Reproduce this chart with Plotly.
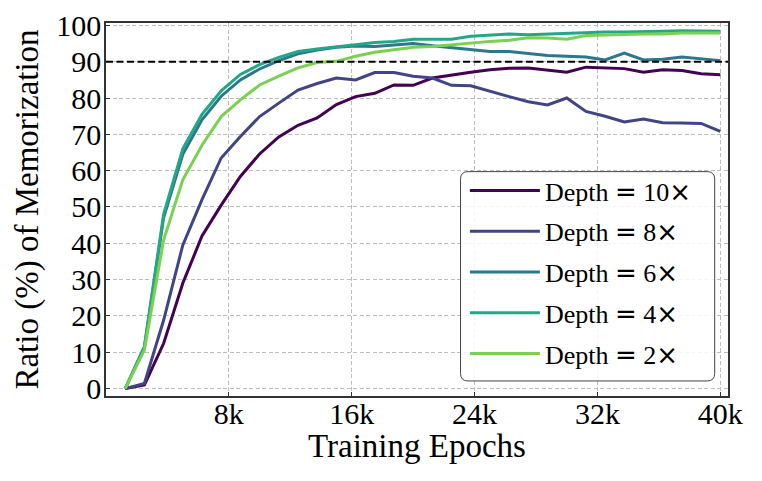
import plotly.graph_objects as go

epochs = [1250, 2500, 3750, 5000, 6250, 7500, 8750, 10000, 11250, 12500,
          13750, 15000, 16250, 17500, 18750, 20000, 21250, 22500, 23750, 25000,
          26250, 27500, 28750, 30000, 31250, 32500, 33750, 35000, 36250, 37500,
          38750, 40000]

depth_10 = [0, 1.0, 12.4, 29.0, 42.0, 50.5, 58.4, 64.6, 69.3, 72.5,
            74.5, 78.2, 80.4, 81.3, 83.6, 83.5, 85.5, 86.4, 87.1, 87.8,
            88.2, 88.3, 87.8, 87.1, 88.5, 88.3, 88.1, 87.1, 87.8, 87.6,
            86.7, 86.4]
depth_8 = [0, 1.4, 18.8, 39.5, 52.0, 63.5, 69.4, 74.9, 78.6, 82.2,
           84.0, 85.5, 85.0, 87.0, 87.0, 86.0, 85.5, 83.5, 83.4, 81.8,
           80.4, 79.0, 78.1, 80.0, 76.3, 75.0, 73.4, 74.2, 73.2, 73.1,
           73.0, 70.8]
depth_6 = [0, 11.5, 47.0, 64.5, 74.0, 80.5, 85.0, 88.0, 90.3, 92.2,
           93.2, 94.0, 94.3, 94.2, 94.6, 95.0, 94.4, 93.8, 93.3, 92.8,
           92.8, 92.2, 91.7, 91.5, 91.3, 90.5, 92.4, 90.5, 90.7, 91.3,
           90.8, 90.3]
depth_4 = [0, 11.5, 48.0, 66.0, 75.5, 82.0, 86.5, 89.2, 91.2, 92.8,
           93.5, 94.2, 94.7, 95.3, 95.6, 96.2, 96.2, 96.2, 97.0, 97.3,
           97.6, 97.4, 97.6, 97.9, 98.1, 98.2, 98.2, 98.2, 98.4, 98.5,
           98.5, 98.4]
depth_2 = [0, 10.6, 40.9, 57.5, 67.0, 74.9, 79.5, 83.6, 86.0, 88.3,
           89.8, 90.1, 91.5, 92.6, 93.3, 94.0, 94.2, 94.7, 95.3, 95.6,
           95.9, 96.6, 96.5, 96.2, 97.2, 97.4, 97.4, 97.6, 97.6, 97.9,
           97.9, 97.9]

depths = ["10", "8", "6", "4", "2"]
series_values = [depth_10, depth_8, depth_6, depth_4, depth_2]
colors = ["#440154", "#414487", "#2a788e", "#22a884", "#7ad151"]

threshold = 90
x_tick_vals = [8000, 16000, 24000, 32000, 40000]
x_tick_text = ["8k", "16k", "24k", "32k", "40k"]
y_tick_vals = [0, 10, 20, 30, 40, 50, 60, 70, 80, 90, 100]
x_title = "Training Epochs"
y_title = "Ratio (%) of Memorization"

FONT = "Liberation Serif"
MATH = "DejaVu Sans"
PLOT_W, PLOT_H = 622.3, 372.4

fig = go.Figure()
for i, (d, vals, col) in enumerate(zip(depths, series_values, colors)):
    name = (f"Depth <span style='font-family:{MATH}'>=</span> {d}"
            f"<span style='font-family:{MATH}'>×</span>")
    fig.add_trace(go.Scatter(
        x=epochs, y=vals, mode="lines", name=name,
        line=dict(color=col, width=3),
        legendgroup=f"g{i}",
    ))

fig.add_shape(type="line", xref="paper", x0=0, x1=1, yref="y", y0=threshold, y1=threshold,
              line=dict(color="black", width=2, dash="7px,3.5px"), layer="above")

# rounded legend frame
lx0, lx1, ly0, ly1, r = 0.570, 0.9786, 0.0403, 0.6015, 0.012
ry = r * PLOT_W / PLOT_H
path = (f"M {lx0 + r},{ly1} L {lx1 - r},{ly1} Q {lx1},{ly1} {lx1},{ly1 - ry} "
        f"L {lx1},{ly0 + ry} Q {lx1},{ly0} {lx1 - r},{ly0} "
        f"L {lx0 + r},{ly0} Q {lx0},{ly0} {lx0},{ly0 + ry} "
        f"L {lx0},{ly1 - ry} Q {lx0},{ly1} {lx0 + r},{ly1} Z")
fig.add_shape(type="path", xref="paper", yref="paper", path=path,
              fillcolor="rgba(255,255,255,0.85)", line=dict(color="#444444", width=1),
              layer="above")

axis_common = dict(
    showline=True, mirror=True, linecolor="#333333", linewidth=1.5,
    ticks="inside", ticklen=4, tickwidth=1, tickcolor="#333333",
    showgrid=True, gridcolor="#bdbdbd", gridwidth=1, griddash="4px,2.5px",
    zeroline=False, automargin=False,
    tickfont=dict(family=FONT, size=30, color="black"),
)

fig.update_xaxes(range=[0, 40500], tickvals=x_tick_vals, ticktext=x_tick_text,
                 ticklabelstandoff=-10, **axis_common)
fig.update_yaxes(range=[-2.04, 100.66], tickvals=y_tick_vals,
                 ticklabelstandoff=-3, **axis_common)

fig.add_annotation(text=x_title, xref="paper", yref="paper", x=0.5, y=-(446 - 395.7) / PLOT_H,
                   xanchor="center", yanchor="middle", showarrow=False,
                   font=dict(family=FONT, size=33, color="black"))
fig.add_annotation(text=y_title, xref="paper", yref="paper", x=-(106 - 27) / PLOT_W, y=0.5,
                   xanchor="center", yanchor="middle", showarrow=False, textangle=-90,
                   font=dict(family=FONT, size=33, color="black"))

fig.update_layout(
    width=762, height=481,
    margin=dict(l=106, r=34, t=23, b=85, pad=0),
    plot_bgcolor="white", paper_bgcolor="white",
    font=dict(family=FONT, color="black"),
    legend=dict(
        x=0.577, y=0.614, xanchor="left", yanchor="top",
        bgcolor="rgba(0,0,0,0)", borderwidth=0,
        font=dict(family=FONT, size=26, color="black"),
        tracegroupgap=4, itemwidth=70,
    ),
    showlegend=True,
)

fig.write_html("out.html", config={"displayModeBar": False},
               post_script="document.body.style.margin='0';document.body.style.padding='0';")
